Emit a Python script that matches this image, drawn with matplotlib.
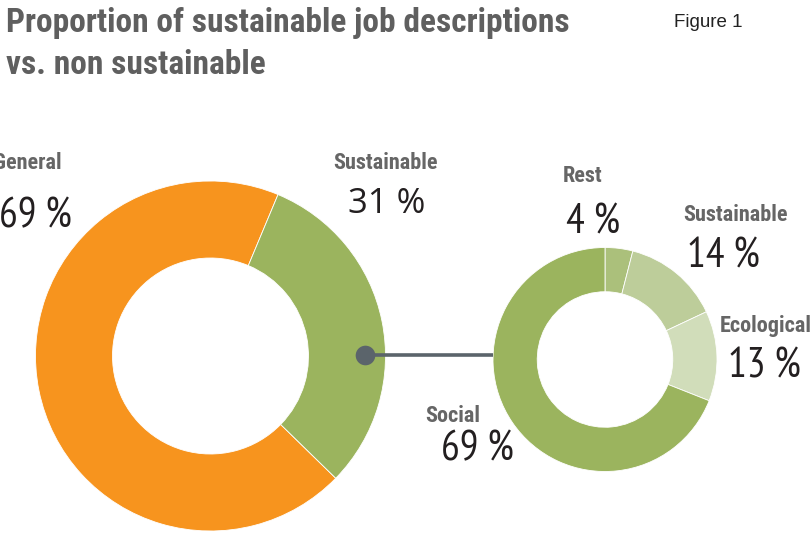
import matplotlib
matplotlib.use("Agg")
import matplotlib.pyplot as plt

# ── data ─────────────────────────────────────────────────────────────────────
main_labels = ["General", "Sustainable"]
main_values = [69, 31]
main_colors = ["#f7941e", "#9bb45e"]

sub_labels = ["Rest", "Sustainable", "Ecological", "Social"]
sub_values = [4, 14, 13, 69]
sub_colors = ["#abc07b", "#bdcd9a", "#d1ddba", "#9bb45e"]

W, H = 811, 534
BOLD_COND = ["Roboto Condensed", "Barlow Condensed", "DejaVu Sans"]
NUM_COND = ["PT Sans Narrow", "Barlow Condensed", "DejaVu Sans"]
GRAY = "#666666"
DARK = "#231f20"


def py(y):
    # pixel row (from top) -> data y
    return H - y


fig = plt.figure(figsize=(W / 100, H / 100), dpi=100)
ax = fig.add_axes([0, 0, 1, 1])

# ── donuts ───────────────────────────────────────────────────────────────────
R_big, R_small = 175, 112
c_big = (210.5, py(356))
c_small = (605, py(359.5))

ax.pie(main_values, colors=main_colors, center=c_big, radius=R_big,
       startangle=67.3, counterclock=True,
       wedgeprops=dict(width=R_big * 0.44, edgecolor="white", linewidth=0.6))
ax.pie(sub_values, colors=sub_colors, center=c_small, radius=R_small,
       startangle=90, counterclock=False,
       wedgeprops=dict(width=R_small * 0.395, edgecolor="white", linewidth=0.6))

# connector between the two
ax.plot([365, c_small[0] - R_small], [py(355), py(355)],
        color="#5b646b", lw=2.6, solid_capstyle="butt", zorder=4)
ax.scatter([365], [py(355)], s=200, color="#5b646b", zorder=5, lw=0)

ax.set_xlim(0, W)
ax.set_ylim(0, H)
ax.set_aspect("equal")
ax.axis("off")

# ── labels ───────────────────────────────────────────────────────────────────
def label(name, value, x_name, y_name, x_val, y_val, ha="left", vfam=None):
    ax.text(x_name, py(y_name), name, family=BOLD_COND, weight="bold",
            fontsize=16, color=GRAY, ha=ha, va="baseline")
    ax.text(x_val, py(y_val), f"{value} %", family=vfam or NUM_COND,
            fontsize=30 if vfam is None else 25, color=DARK, ha=ha,
            va="baseline")


label(main_labels[0], main_values[0], 62, 169, 72, 227, ha="right")
label(main_labels[1], main_values[1], 333, 169, 348, 213,
      vfam=["Open Sans", "DejaVu Sans"])

label(sub_labels[0], sub_values[0], 563, 182, 566, 233)
label(sub_labels[1], sub_values[1], 683, 221, 687, 267)
label(sub_labels[2], sub_values[2], 720, 332, 728, 377)
label(sub_labels[3], sub_values[3], 425, 422, 441, 460)

# ── title ────────────────────────────────────────────────────────────────────
ax.text(6, py(32), "Proportion of sustainable job descriptions",
        family=BOLD_COND, weight="bold", fontsize=24, color="#5f5f5f",
        va="baseline")
ax.text(6, py(74), "vs. non sustainable", family=BOLD_COND,
        weight="bold", fontsize=24, color="#5f5f5f", va="baseline")
ax.text(674, py(26.7), "Figure 1", family=["Liberation Sans", "DejaVu Sans"],
        fontsize=13.5, color="#222222", va="baseline")

fig.savefig("out.png", dpi=100)
